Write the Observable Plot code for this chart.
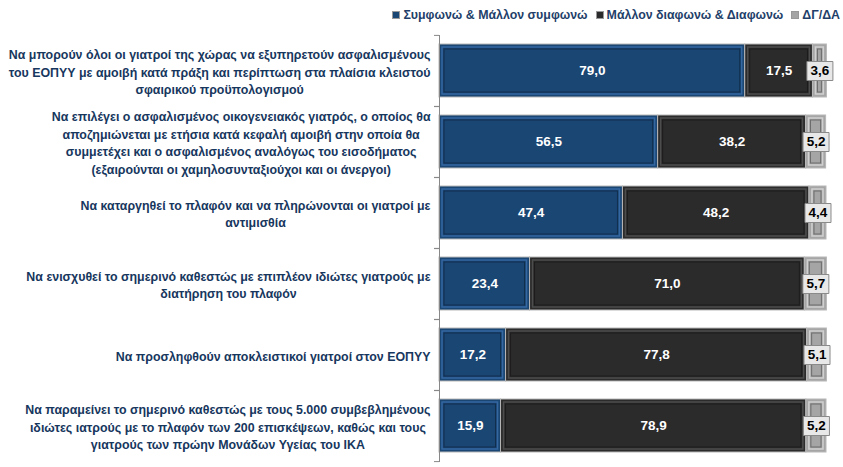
<!DOCTYPE html>
<html>
<head>
<meta charset="utf-8">
<script src="https://cdn.jsdelivr.net/npm/d3@7"></script>
<script src="https://cdn.jsdelivr.net/npm/@observablehq/plot@0.6"></script>
<style>
  body { margin: 0; background: #fff; width: 843px; height: 467px; overflow: hidden; }
  #legend { height: 30px; display: flex; justify-content: flex-end; align-items: center;
    padding-right: 3px; font: bold 12.4px "Liberation Sans", sans-serif; color: #1f3f6a; gap: 8px; }
  #legend .item { display: flex; align-items: center; gap: 3px; }
  #legend .sw { width: 8px; height: 8px; border: 1px solid #999; box-sizing: border-box; }
</style>
</head>
<body>
<div id="legend"></div>
<div id="chart"></div>
<script>
const categories = [
  "Να μπορούν όλοι οι γιατροί της χώρας να εξυπηρετούν ασφαλισμένους\nτου ΕΟΠΥΥ με αμοιβή κατά πράξη και περίπτωση στα πλαίσια κλειστού\nσφαιρικού προϋπολογισμού",
  "Να επιλέγει ο ασφαλισμένος οικογενειακός γιατρός, ο οποίος θα\nαποζημιώνεται με ετήσια κατά κεφαλή αμοιβή στην οποία θα\nσυμμετέχει και ο ασφαλισμένος αναλόγως του εισοδήματος\n(εξαιρούνται οι χαμηλοσυνταξιούχοι και οι άνεργοι)",
  "Να καταργηθεί το πλαφόν και να πληρώνονται οι γιατροί με\nαντιμισθία",
  "Να ενισχυθεί το σημερινό καθεστώς με επιπλέον ιδιώτες γιατρούς με\nδιατήρηση του πλαφόν",
  "Να προσληφθούν αποκλειστικοί γιατροί στον ΕΟΠΥΥ",
  "Να παραμείνει το σημερινό καθεστώς με τους 5.000 συμβεβλημένους\nιδιώτες ιατρούς με το πλαφόν των 200 επισκέψεων, καθώς και τους\nγιατρούς των πρώην Μονάδων Υγείας του ΙΚΑ"
];
const seriesNames = ["Συμφωνώ & Μάλλον συμφωνώ", "Μάλλον διαφωνώ & Διαφωνώ", "ΔΓ/ΔΑ"];
const agree    = [79.0, 56.5, 47.4, 23.4, 17.2, 15.9];
const disagree = [17.5, 38.2, 48.2, 71.0, 77.8, 78.9];
const dkna     = [3.6, 5.2, 4.4, 5.7, 5.1, 5.2];

const seriesColors = ["#1a4674", "#2b2b2b", "#a5a5a5"];
const bevelColors  = ["#3567a0", "#4d4d4d", "#d0d0d0"];

const rows = [];
categories.forEach((c, i) => {
  [agree, disagree, dkna].forEach((arr, s) => {
    rows.push({cat: c, series: seriesNames[s], s, value: arr[i]});
  });
});
const fmt = v => v.toFixed(1).replace(".", ",");

// legend
const leg = document.getElementById("legend");
seriesNames.forEach((n, i) => {
  const it = document.createElement("div");
  it.className = "item";
  it.innerHTML = `<span class="sw" style="background:${seriesColors[i]}"></span><span>${n}</span>`;
  leg.appendChild(it);
});

const labelSize = 12.4;
const canvas = document.createElement("canvas");
const ctx = canvas.getContext("2d");
ctx.font = `bold ${labelSize}px 'Liberation Sans'`;
const blockW = c => d3.max(c.split("\n"), l => ctx.measureText(l).width);

const boxSymbol = { draw(context) { context.rect(-13, -9.5, 26, 19); } };

const st = extra => Plot.stackX({x: "value", y: "cat", z: "series", order: null, ...extra});
const marks = [
  Plot.barX(rows, st({fill: d => seriesColors[d.s], stroke: "#b8b8b8", strokeWidth: 1})),
  Plot.barX(rows, st({fill: "none", stroke: d => bevelColors[d.s], strokeWidth: 1.5,
    insetLeft: 3, insetRight: 3, insetTop: 3, insetBottom: 3})),
  Plot.barX(rows, st({fill: "none", stroke: "#000", strokeOpacity: 0.35, strokeWidth: 1,
    insetLeft: 5, insetRight: 5, insetTop: 5, insetBottom: 5})),
  Plot.text(rows, Plot.filter(d => d.s < 2, st({text: d => fmt(d.value), fill: "white",
    fontWeight: "bold", fontSize: 13.5, fontFamily: "Liberation Sans"}))),
  Plot.dot(rows, Plot.filter(d => d.s === 2, st({symbol: boxSymbol, fill: "#e8e8e8",
    stroke: "#8a8a8a", strokeWidth: 1}))),
  Plot.text(rows, Plot.filter(d => d.s === 2, st({text: d => fmt(d.value), fill: "black",
    fontWeight: "bold", fontSize: 13.5, fontFamily: "Liberation Sans"}))),
  Plot.ruleX([0], {stroke: "#888"}),
  Plot.axisY({tickSize: 5, dy: -35.6, text: null, label: null, stroke: "#888"}),
  Plot.axisY({tickSize: 5, dy: 35.6, text: null, label: null, stroke: "#888"})
];
categories.forEach(c => {
  marks.push(Plot.text([c], {y: d => d, text: d => d, frameAnchor: "left",
    textAnchor: "middle", dx: -9 - blockW(c) / 2, lineHeight: 1.42,
    fill: "#17375e", fontWeight: "bold", fontSize: labelSize, fontFamily: "Liberation Sans"}));
});

const chart = Plot.plot({
  width: 843,
  height: 437,
  marginLeft: 439,
  marginRight: 17,
  marginTop: 5,
  marginBottom: 5,
  x: {domain: [0, 100], axis: null},
  y: {domain: categories, paddingInner: 0.25, paddingOuter: 0.125, axis: null},
  color: {type: "identity"},
  style: {background: "white"},
  marks
});
document.getElementById("chart").appendChild(chart);
</script>
</body>
</html>
